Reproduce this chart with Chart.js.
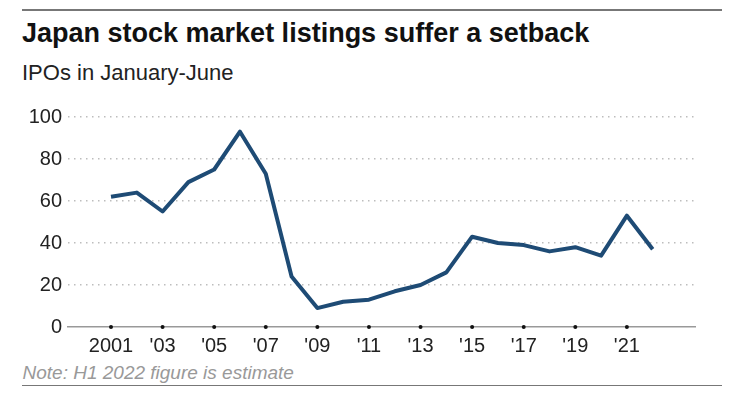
<!DOCTYPE html>
<html>
<head>
<meta charset="utf-8">
<script src="https://cdn.jsdelivr.net/npm/chart.js@4.4.1/dist/chart.umd.min.js"></script>
<style>
  html, body { margin: 0; padding: 0; background: #fff; }
  body { width: 746px; height: 395px; position: relative; overflow: hidden; font-family: "Liberation Sans", Arial, sans-serif; }
  .abs { position: absolute; white-space: nowrap; }
  #rule-top { left: 22px; top: 9px; width: 700px; height: 1.5px; background: #777; }
  #rule-bot { left: 22px; top: 384.5px; width: 700px; height: 1.5px; background: #777; }
  #title { left: 22px; top: 20px; font-size: 27px; line-height: 27px; font-weight: bold; color: #111; }
  #subtitle { left: 22px; top: 61.5px; font-size: 22px; line-height: 22px; color: #222; }
  #note { left: 22.5px; top: 363px; font-size: 19px; line-height: 19px; font-style: italic; color: #999; }
  #c { position: absolute; left: 0; top: 0; }
</style>
</head>
<body>
<div class="abs" id="rule-top"></div>
<div class="abs" id="title">Japan stock market listings suffer a setback</div>
<div class="abs" id="subtitle">IPOs in January-June</div>
<div class="abs" id="note">Note: H1 2022 figure is estimate</div>
<div class="abs" id="rule-bot"></div>
<canvas id="c" width="746" height="395"></canvas>
<script>
const years = [2001,2002,2003,2004,2005,2006,2007,2008,2009,2010,2011,2012,2013,2014,2015,2016,2017,2018,2019,2020,2021,2022];
const ipos  = [62,64,55,69,75,93,73,24,9,12,13,17,20,26,43,40,39,36,38,34,53,37];
const xTickValues = [2001,2003,2005,2007,2009,2011,2013,2015,2017,2019,2021];
const xTickLabels = ["2001","'03","'05","'07","'09","'11","'13","'15","'17","'19","'21"];
const yTickValues = [0,20,40,60,80,100];

const FONT = '"Liberation Sans", Arial, sans-serif';

const tickDots = {
  id: 'tickDots',
  afterDraw(chart) {
    const xs = chart.scales.x, ys = chart.scales.y;
    const ctx = chart.ctx;
    const y0 = ys.getPixelForValue(0);
    ctx.save();
    ctx.fillStyle = '#111';
    xTickValues.forEach(v => {
      ctx.beginPath();
      ctx.arc(xs.getPixelForValue(v), y0, 2, 0, Math.PI * 2);
      ctx.fill();
    });
    ctx.restore();
  }
};

new Chart(document.getElementById('c'), {
  type: 'line',
  data: {
    datasets: [{
      data: years.map((y, i) => ({ x: y, y: ipos[i] })),
      borderColor: '#1e4b75',
      borderWidth: 4,
      pointRadius: 0,
      tension: 0,
      borderJoinStyle: 'round',
      borderCapStyle: 'butt',
      fill: false
    }]
  },
  options: {
    responsive: false,
    animation: false,
    layout: { padding: { left: 0, right: 51, top: 117, bottom: 0 } },
    plugins: { legend: { display: false }, tooltip: { enabled: false } },
    scales: {
      x: {
        type: 'linear',
        min: 1999.333,
        max: 2023.64,
        afterBuildTicks(scale) { scale.ticks = xTickValues.map(v => ({ value: v })); },
        afterFit(scale) { scale.height = 68; },
        grid: { display: false, drawTicks: false },
        border: { display: true, color: '#999', width: 1.5 },
        ticks: {
          padding: 7,
          autoSkip: false,
          maxRotation: 0,
          color: '#222',
          font: { family: FONT, size: 20 },
          callback(value) {
            const i = xTickValues.indexOf(value);
            return i >= 0 ? xTickLabels[i] : '';
          }
        }
      },
      y: {
        min: 0,
        max: 100,
        afterBuildTicks(scale) { scale.ticks = yTickValues.map(v => ({ value: v })); },
        afterFit(scale) { scale.width = 68; },
        grid: {
          drawTicks: false,
          lineWidth: 1.5,
          color: ctx => (ctx.tick && ctx.tick.value === 0) ? 'rgba(0,0,0,0)' : '#bdbdbd'
        },
        border: { display: false, dash: [1.5, 4.5] },
        ticks: {
          padding: 6,
          color: '#222',
          font: { family: FONT, size: 20 }
        }
      }
    }
  },
  plugins: [tickDots]
});
</script>
</body>
</html>
